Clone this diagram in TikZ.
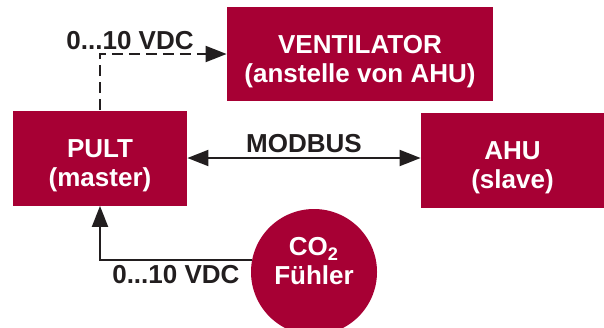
\documentclass[tikz,border=0pt]{standalone}
\usepackage{fontspec}
\setmainfont{Liberation Sans}
\usepackage{xcolor}
\usetikzlibrary{positioning,arrows.meta}
\definecolor{boxred}{RGB}{167,0,52}
\definecolor{wirecol}{RGB}{34,30,31}

\begin{document}
\begin{tikzpicture}[
  x=0.5pt, y=-0.5pt,
  >={Triangle[length=10.5pt,width=8pt]},
  box/.style={rectangle, fill=boxred, text=white, align=center, inner sep=0pt, font=\fontsize{13}{14.5}\selectfont\bfseries, execute at begin node={\rule{0pt}{31pt}}},
  sensor/.style={circle, fill=boxred, text=white, align=center, inner sep=0pt, minimum size=63pt, font=\fontsize{13}{14.5}\selectfont\bfseries, execute at end node={\rule[-11pt]{0pt}{11pt}}},
  wire/.style={line width=1pt, draw=wirecol},
  lbl/.style={font=\fontsize{13}{15}\selectfont\bfseries, text=wirecol, inner sep=2pt},
]
\useasboundingbox (0,0) rectangle (604,327);

% Boxes
\node[box, minimum width=133pt, minimum height=47pt] (vent) at (360,54) {VENTILATOR\\(anstelle von AHU)};
\node[box, minimum width=87pt, minimum height=47.5pt] (pult) at (100,158) {PULT\\(master)};
\node[box, minimum width=91.5pt, minimum height=47.5pt] (ahu) at (512.5,160) {AHU\\(slave)};
\node[sensor] (co2) at (314,272) {CO$_{\mathbf{2}}$\\F\"uhler};

% Connections
\draw[wire, ->, dash pattern=on 5.5pt off 3pt] (pult.north) |- (vent.west);
\draw[wire, <->] (pult.east) -- (pult.east -| ahu.west)
  node[lbl, midway, above] (modbus) {MODBUS};
\draw[wire, ->] (co2.169) -| (pult.south)
  node[lbl, pos=0.25, below] (lblco2) {0...10 VDC};

% Labels
\node[lbl] (lblvent) at (130,41) {0...10 VDC};

\end{tikzpicture}
\end{document}
